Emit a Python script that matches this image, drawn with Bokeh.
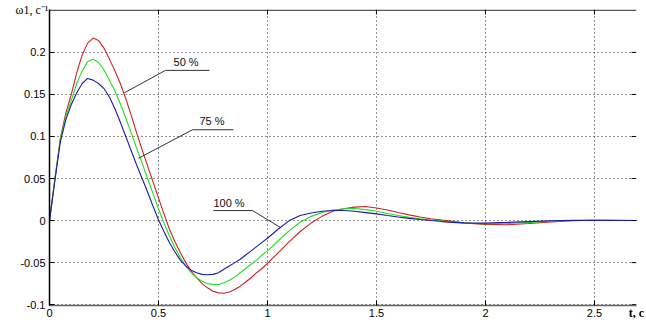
from bokeh.plotting import figure
from bokeh.models import ColumnDataSource, Range1d, FixedTicker, Label
from bokeh.embed import file_html
from bokeh.resources import INLINE

# ---- data ----
t = [0.0, 0.025, 0.05, 0.075, 0.1, 0.125, 0.15, 0.175, 0.2, 0.225, 0.25, 0.275, 0.3,
     0.325, 0.35, 0.375, 0.4, 0.425, 0.45, 0.475, 0.5, 0.525, 0.55, 0.575, 0.6,
     0.625, 0.65, 0.675, 0.7, 0.725, 0.75, 0.775, 0.8, 0.825, 0.85, 0.875, 0.9,
     0.925, 0.95, 0.975, 1.0,
     1.05, 1.1, 1.15, 1.2, 1.25, 1.3, 1.35, 1.4, 1.45, 1.5, 1.55, 1.6, 1.65, 1.7,
     1.75, 1.8, 1.85, 1.9, 1.95, 2.0,
     2.1, 2.2, 2.3, 2.4, 2.5, 2.6, 2.7, 2.75]

w_50 = [0.0, 0.05, 0.098, 0.128, 0.15, 0.176, 0.197, 0.211, 0.217, 0.214, 0.205, 0.192, 0.178,
        0.163, 0.145, 0.125, 0.104, 0.084, 0.065, 0.046, 0.027, 0.008, -0.01, -0.025, -0.038,
        -0.05, -0.06, -0.068, -0.075, -0.08, -0.084, -0.086, -0.0865, -0.085, -0.082, -0.078, -0.073,
        -0.068, -0.062, -0.057, -0.051,
        -0.038, -0.025, -0.013, -0.003, 0.005, 0.011, 0.014, 0.016, 0.0167, 0.015, 0.0125, 0.0095, 0.0068, 0.0043,
        0.0022, 0.0005, -0.001, -0.0027, -0.0038, -0.0045,
        -0.005, -0.0035, -0.0015, -0.0002, 0.0004, 0.0003, 0.0001, 0.0]

w_75 = [0.0, 0.05, 0.097, 0.124, 0.143, 0.163, 0.178, 0.189, 0.192, 0.188, 0.179, 0.167, 0.154,
        0.139, 0.122, 0.104, 0.086, 0.068, 0.05, 0.032, 0.014, -0.003, -0.018, -0.032, -0.044,
        -0.054, -0.062, -0.068, -0.072, -0.075, -0.076, -0.076, -0.074, -0.071, -0.067, -0.062, -0.057,
        -0.052, -0.047, -0.041, -0.036,
        -0.024, -0.012, -0.002, 0.005, 0.0095, 0.0125, 0.014, 0.0143, 0.013, 0.011, 0.0085, 0.006, 0.0038, 0.002,
        0.0006, -0.0006, -0.0018, -0.0028, -0.0035, -0.0038,
        -0.0035, -0.0022, -0.0008, 0.0001, 0.0003, 0.0002, 0.0001, 0.0]

w_100 = [0.0, 0.048, 0.094, 0.12, 0.138, 0.152, 0.163, 0.169, 0.167, 0.163, 0.157, 0.147, 0.133,
         0.117, 0.1, 0.083, 0.066, 0.05, 0.034, 0.017, 0.001, -0.013, -0.026, -0.037, -0.047,
         -0.054, -0.059, -0.062, -0.064, -0.0645, -0.064, -0.062, -0.058, -0.054, -0.05, -0.046, -0.041,
         -0.036, -0.031, -0.026, -0.021,
         -0.01, 0.0, 0.006, 0.009, 0.011, 0.012, 0.012, 0.011, 0.0095, 0.008, 0.006, 0.0042, 0.0026, 0.0012,
         0.0, -0.0012, -0.0022, -0.0028, -0.003, -0.003,
         -0.0022, -0.0012, -0.0003, 0.0002, 0.0002, 0.0001, 0.0, 0.0]

x_ticks = [0, 0.5, 1, 1.5, 2, 2.5]
x_tick_labels = ["0", "0.5", "1", "1.5", "2", "2.5"]
y_ticks = [-0.1, -0.05, 0, 0.05, 0.1, 0.15, 0.2]
y_tick_labels = ["-0.1", "-0.05", "0", "0.05", "0.1", "0.15", "0.2"]
x_title = "t, c"
y_title = "ω1, c⁻¹"

series_names = ["50 %", "75 %", "100 %"]
series_colors = ["#cc2222", "#22dd22", "#1c1ca8"]

# callout anchors (data units): text position, underline start/end, leader tip
callout_text_t = [0.569, 0.688, 0.752]
callout_text_v = [0.181, 0.111, 0.0135]
callout_line_t = [[0.734, 0.532, 0.344], [0.844, 0.656, 0.408], [0.752, 0.931, 1.06]]
callout_line_v = [[0.1786, 0.1786, 0.152], [0.108, 0.108, 0.074], [0.0119, 0.0119, -0.0083]]

SANS = "Liberation Sans"
SERIF = "Liberation Serif"

X0, X1 = 0.0, 2.693
Y0, Y1 = -0.101, 0.251
W, H = 646, 322
BL, BR, BT, BB = 49, 10, 9, 17
TICK_PX = 5

p = figure(width=W, height=H,
           x_range=Range1d(X0, X1), y_range=Range1d(Y0, Y1),
           output_backend="svg", toolbar_location=None,
           min_border_left=BL, min_border_right=BR, min_border_top=BT, min_border_bottom=BB,
           background_fill_color="white", border_fill_color="white")
p.outline_line_color = None

src = ColumnDataSource(dict(t=t, w_50=w_50, w_75=w_75, w_100=w_100))
for col, c in zip(["w_50", "w_75", "w_100"], series_colors):
    p.line("t", col, source=src, line_color=c, line_width=1.1)

for i in range(3):
    p.line(callout_line_t[i], callout_line_v[i], line_color="#333333", line_width=1)
    p.add_layout(Label(x=callout_text_t[i], y=callout_text_v[i], text=series_names[i],
                       text_font=SANS, text_font_size="11px", text_color="#111111",
                       text_baseline="bottom", text_align="left"))

# grid
p.xgrid.ticker = FixedTicker(ticks=x_ticks)
p.ygrid.ticker = FixedTicker(ticks=y_ticks)
for g in (p.xgrid, p.ygrid):
    g.grid_line_color = "black"
    g.grid_line_dash = "1 3"
    g.grid_line_width = 1
    g.grid_line_alpha = 0.85

# main axes
xa = p.below[0]
ya = p.left[0]
xa.ticker = FixedTicker(ticks=x_ticks)
ya.ticker = FixedTicker(ticks=y_ticks)
xa.major_label_overrides = {v: s for v, s in zip(x_ticks, x_tick_labels)}
ya.major_label_overrides = {v: s for v, s in zip(y_ticks, y_tick_labels)}
for ax in (xa, ya):
    ax.major_tick_in = TICK_PX
    ax.major_tick_out = 0
    ax.minor_tick_line_color = None
    ax.major_label_text_font = SANS
    ax.major_label_text_font_size = "11px"
    ax.major_label_text_color = "black"
    ax.major_tick_line_color = "black"
    ax.axis_label_text_font = SERIF
    ax.axis_label_text_font_size = "12px"
    ax.axis_label_text_color = "black"
    ax.axis_label_text_font_style = "normal"
xa.axis_line_color = "#666666"
xa.axis_line_width = 1.5
ya.axis_line_color = "black"
ya.axis_line_width = 1.5
xa.major_label_standoff = 3
ya.major_label_standoff = 4

xa.axis_label = x_title
xa.axis_label_align = "end"
xa.axis_label_standoff = -14
xa.axis_label_text_font_style = "bold"

ya.axis_label = y_title
ya.axis_label_orientation = "horizontal"
ya.axis_label_align = "end"
ya.axis_label_standoff = -31

# top border with inward ticks, and inward ticks on the right edge
frame_h = H - BT - BB
frame_w = W - BL - BR
py = (Y1 - Y0) / frame_h
px = (X1 - X0) / frame_w
p.segment(x0=[X0], x1=[X1], y0=[Y1 - 0.7 * py], y1=[Y1 - 0.7 * py], line_color="#555555", line_width=1.5)
p.segment(x0=x_ticks, x1=x_ticks, y0=[Y1] * len(x_ticks), y1=[Y1 - TICK_PX * py] * len(x_ticks),
          line_color="black", line_width=1)
p.segment(x0=[X1] * len(y_ticks), x1=[X1 - TICK_PX * px] * len(y_ticks), y0=y_ticks, y1=y_ticks,
          line_color="black", line_width=1)

open("out.html", "w").write(file_html(p, INLINE))
